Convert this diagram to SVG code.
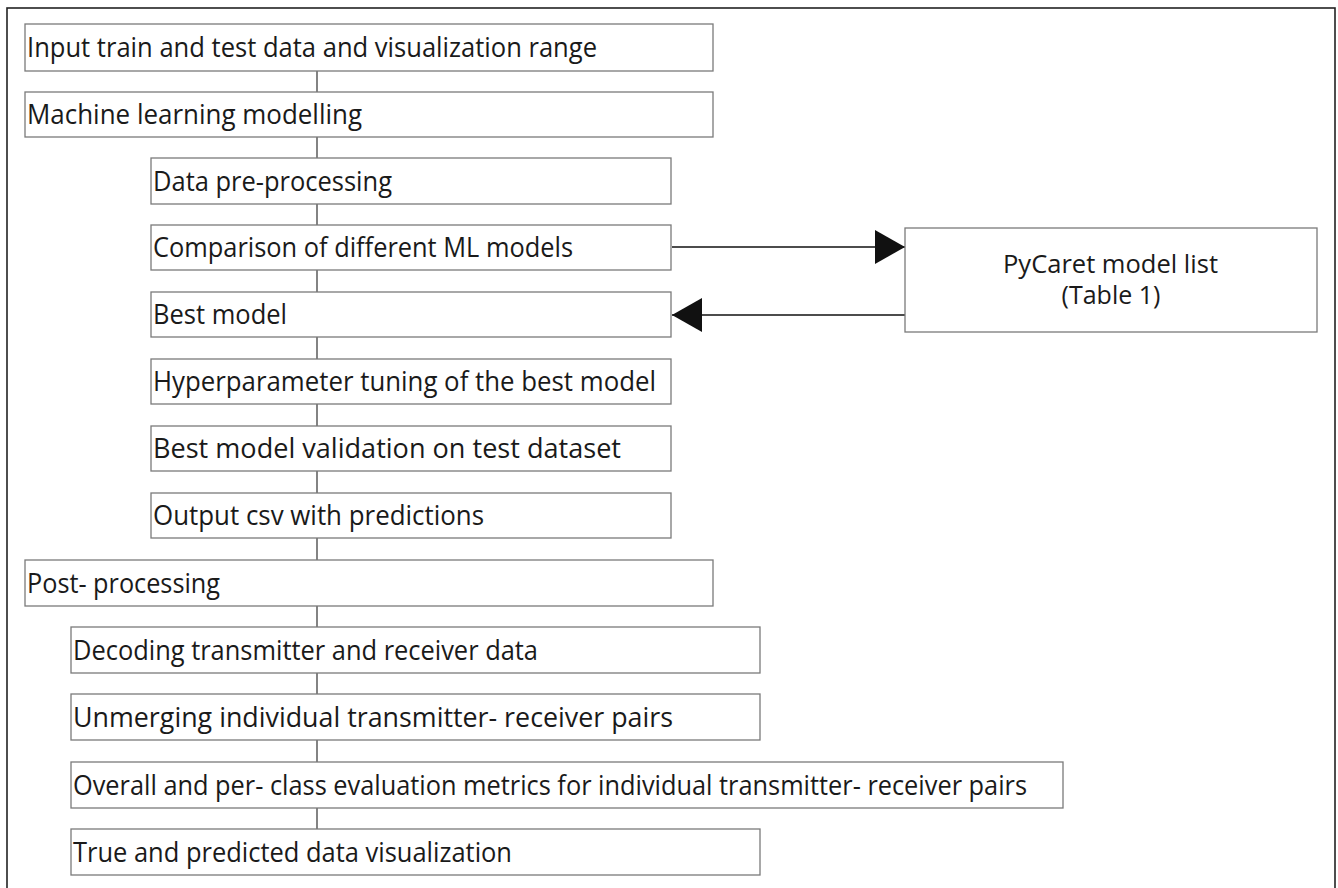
<svg xmlns="http://www.w3.org/2000/svg" width="1338" height="888" viewBox="0 0 1338 888">
<style>
.box{fill:#fff;stroke:#7a7a7a;stroke-width:1.3}
.t{font-family:"Open Sans","Noto Sans",sans-serif;font-size:27px;fill:#1a1a1a}
.p{font-family:"Open Sans","Noto Sans",sans-serif;font-size:25px;fill:#1a1a1a}
.c{stroke:#333;stroke-width:1.2;fill:none}
.a{stroke:#111;stroke-width:1.6;fill:none}
</style>
<defs>
<marker id="ah" markerWidth="30" markerHeight="34" refX="30" refY="17" orient="auto" markerUnits="userSpaceOnUse">
<path d="M0,0 L30,17 L0,34 Z" fill="#111"/>
</marker>
</defs>
<rect x="0" y="0" width="1338" height="888" fill="#fff"/>
<rect x="7" y="8" width="1328" height="900" fill="none" stroke="#222" stroke-width="1.6"/>
<g id="connectors">
<path class="c" d="M317,71V92 M317,137V158 M317,204V225 M317,270V292 M317,337V359 M317,404V426 M317,471V493 M317,538V560 M317,606V627 M317,673V694 M317,740V762 M317,808V829"/>
<path class="a" d="M672,247H905" marker-end="url(#ah)"/>
<path class="a" d="M905,315H672" marker-end="url(#ah)"/>
</g>
<g id="n1"><rect class="box" x="25" y="24" width="688" height="47"/><text class="t" x="27" y="57" textLength="570" lengthAdjust="spacingAndGlyphs">Input train and test data and visualization range</text></g>
<g id="n2"><rect class="box" x="25" y="92" width="688" height="45"/><text class="t" x="27" y="124" textLength="335" lengthAdjust="spacingAndGlyphs">Machine learning modelling</text></g>
<g id="n3"><rect class="box" x="151" y="158" width="520" height="46"/><text class="t" x="153" y="191" textLength="239" lengthAdjust="spacingAndGlyphs">Data pre-processing</text></g>
<g id="n4"><rect class="box" x="151" y="225" width="520" height="45"/><text class="t" x="153" y="257" textLength="420" lengthAdjust="spacingAndGlyphs">Comparison of different ML models</text></g>
<g id="n5"><rect class="box" x="151" y="292" width="520" height="45"/><text class="t" x="153" y="324" textLength="134" lengthAdjust="spacingAndGlyphs">Best model</text></g>
<g id="n6"><rect class="box" x="151" y="359" width="520" height="45"/><text class="t" x="153" y="391" textLength="503" lengthAdjust="spacingAndGlyphs">Hyperparameter tuning of the best model</text></g>
<g id="n7"><rect class="box" x="151" y="426" width="520" height="45"/><text class="t" x="153" y="458" textLength="468" lengthAdjust="spacingAndGlyphs">Best model validation on test dataset</text></g>
<g id="n8"><rect class="box" x="151" y="493" width="520" height="45"/><text class="t" x="153" y="525" textLength="331" lengthAdjust="spacingAndGlyphs">Output csv with predictions</text></g>
<g id="n9"><rect class="box" x="25" y="560" width="688" height="46"/><text class="t" x="27" y="593" textLength="193" lengthAdjust="spacingAndGlyphs">Post- processing</text></g>
<g id="n10"><rect class="box" x="71" y="627" width="689" height="46"/><text class="t" x="73" y="660" textLength="465" lengthAdjust="spacingAndGlyphs">Decoding transmitter and receiver data</text></g>
<g id="n11"><rect class="box" x="71" y="694" width="689" height="46"/><text class="t" x="73" y="727" textLength="600" lengthAdjust="spacingAndGlyphs">Unmerging individual transmitter- receiver pairs</text></g>
<g id="n12"><rect class="box" x="71" y="762" width="992" height="46"/><text class="t" x="73" y="795" textLength="954" lengthAdjust="spacingAndGlyphs">Overall and per- class evaluation metrics for individual transmitter- receiver pairs</text></g>
<g id="n13"><rect class="box" x="71" y="829" width="689" height="46"/><text class="t" x="73" y="862" textLength="439" lengthAdjust="spacingAndGlyphs">True and predicted data visualization</text></g>
<g id="n14"><rect class="box" x="905" y="228" width="412" height="104"/><text class="p" x="1003" y="273" textLength="215" lengthAdjust="spacingAndGlyphs">PyCaret model list</text><text class="p" x="1111" y="304" text-anchor="middle">(Table 1)</text></g>
</svg>
